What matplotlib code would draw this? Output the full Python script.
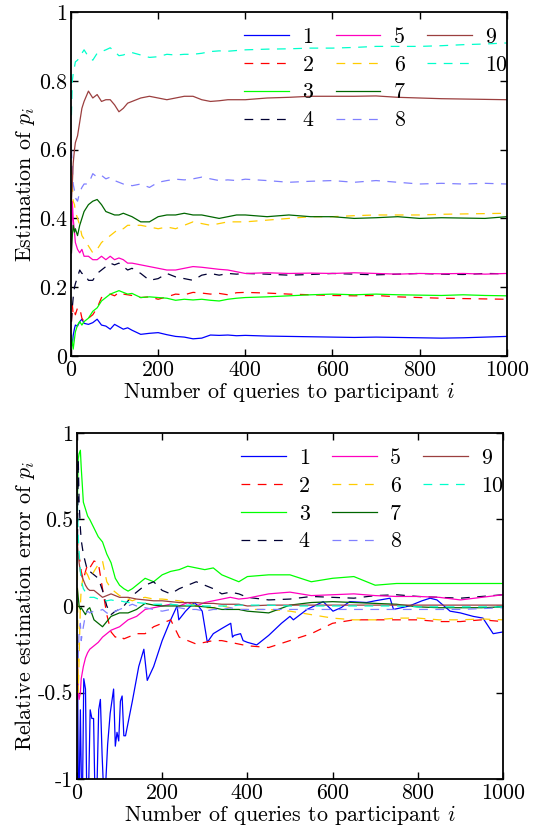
import matplotlib
matplotlib.use("Agg")
import matplotlib.pyplot as plt
from matplotlib.lines import Line2D

plt.rcParams['font.family'] = 'serif'
plt.rcParams['font.serif'] = ['cmr10', 'DejaVu Serif']
plt.rcParams['mathtext.fontset'] = 'cm'
plt.rcParams['axes.formatter.use_mathtext'] = True
plt.rcParams['axes.unicode_minus'] = False

# ---------------- data ----------------
labels = ['1', '2', '3', '4', '5', '6', '7', '8', '9', '10']
colors = ['#0000ff', '#ff0000', '#00ff00', '#000033', '#ff00bf',
          '#ffcc00', '#006600', '#8080ff', '#9b3f3f', '#00ffcc']

x_top = [1, 3, 5, 8, 10, 15, 20, 25, 30, 40, 50, 60, 70, 80, 90, 100, 110, 120, 130, 140,
         160, 180, 200, 220, 240, 260, 280, 300, 320, 340, 360, 380, 400, 450, 500, 550,
         600, 650, 700, 750, 800, 850, 900, 950, 1000]

top1 = [0.05, 0.03, 0.06, 0.08, 0.09, 0.087, 0.1, 0.107, 0.095, 0.092, 0.097, 0.107, 0.09, 0.087, 0.078,
        0.092, 0.085, 0.078, 0.082, 0.075, 0.063, 0.066, 0.068, 0.062, 0.057, 0.055, 0.05, 0.052, 0.061,
        0.06, 0.061, 0.059, 0.06, 0.058, 0.057, 0.056, 0.055, 0.054, 0.055, 0.054, 0.053, 0.052, 0.053,
        0.055, 0.057]
top2 = [0.1, 0.15, 0.12, 0.13, 0.12, 0.14, 0.14, 0.11, 0.1, 0.11, 0.12, 0.14, 0.17, 0.175, 0.18, 0.175,
        0.185, 0.18, 0.178, 0.176, 0.17, 0.172, 0.165, 0.172, 0.18, 0.178, 0.185, 0.183, 0.18, 0.182,
        0.178, 0.184, 0.185, 0.183, 0.18, 0.178, 0.176, 0.175, 0.176, 0.172, 0.17, 0.168, 0.167, 0.166,
        0.165]
top3 = [0.06, 0.04, 0.02, 0.05, 0.07, 0.09, 0.1, 0.09, 0.1, 0.11, 0.13, 0.14, 0.16, 0.17, 0.18, 0.185,
        0.19, 0.185, 0.18, 0.182, 0.17, 0.172, 0.17, 0.168, 0.162, 0.165, 0.163, 0.165, 0.162, 0.16,
        0.165, 0.168, 0.17, 0.172, 0.175, 0.178, 0.18, 0.178, 0.18, 0.178, 0.177, 0.176, 0.178, 0.176,
        0.175]
top4 = [0.1, 0.14, 0.17, 0.2, 0.21, 0.23, 0.25, 0.24, 0.24, 0.22, 0.22, 0.24, 0.25, 0.26, 0.27, 0.265,
        0.27, 0.26, 0.25, 0.255, 0.24, 0.22, 0.225, 0.24, 0.23, 0.225, 0.22, 0.235, 0.24, 0.235, 0.24,
        0.238, 0.24, 0.238, 0.235, 0.237, 0.24, 0.238, 0.236, 0.238, 0.24, 0.238, 0.237, 0.24, 0.239]
top5 = [0.3, 0.45, 0.4, 0.36, 0.33, 0.31, 0.3, 0.31, 0.29, 0.29, 0.28, 0.28, 0.29, 0.28, 0.29, 0.28,
        0.285, 0.28, 0.27, 0.27, 0.265, 0.26, 0.255, 0.25, 0.25, 0.255, 0.26, 0.258, 0.255, 0.252, 0.25,
        0.245, 0.24, 0.242, 0.24, 0.241, 0.24, 0.242, 0.24, 0.238, 0.24, 0.239, 0.24, 0.238, 0.24]
top6 = [0.55, 0.5, 0.45, 0.44, 0.42, 0.4, 0.38, 0.35, 0.34, 0.32, 0.3, 0.31, 0.33, 0.34, 0.35, 0.36,
        0.37, 0.37, 0.38, 0.38, 0.38, 0.375, 0.37, 0.375, 0.37, 0.38, 0.39, 0.385, 0.38, 0.385, 0.39,
        0.39, 0.39, 0.395, 0.4, 0.405, 0.405, 0.408, 0.41, 0.41, 0.41, 0.412, 0.413, 0.414, 0.415]
top7 = [0.3, 0.35, 0.38, 0.36, 0.37, 0.35, 0.38, 0.4, 0.42, 0.44, 0.45, 0.455, 0.44, 0.42, 0.415, 0.41,
        0.41, 0.415, 0.41, 0.405, 0.39, 0.39, 0.405, 0.41, 0.41, 0.415, 0.41, 0.41, 0.405, 0.4, 0.405,
        0.41, 0.41, 0.405, 0.41, 0.405, 0.405, 0.4, 0.402, 0.405, 0.4, 0.402, 0.401, 0.4, 0.405]
top8 = [0.6, 0.55, 0.5, 0.48, 0.46, 0.45, 0.476, 0.49, 0.5, 0.5, 0.53, 0.52, 0.525, 0.515, 0.52, 0.51,
        0.505, 0.5, 0.5, 0.495, 0.5, 0.49, 0.505, 0.51, 0.514, 0.512, 0.515, 0.52, 0.515, 0.51, 0.512,
        0.51, 0.514, 0.51, 0.505, 0.508, 0.51, 0.505, 0.51, 0.505, 0.5, 0.502, 0.5, 0.502, 0.5]
top9 = [0.45, 0.5, 0.56, 0.6, 0.62, 0.64, 0.68, 0.72, 0.74, 0.77, 0.75, 0.76, 0.74, 0.745, 0.745, 0.73,
        0.71, 0.72, 0.735, 0.74, 0.75, 0.755, 0.75, 0.745, 0.75, 0.755, 0.755, 0.745, 0.74, 0.742, 0.745,
        0.745, 0.745, 0.75, 0.752, 0.755, 0.755, 0.755, 0.756, 0.752, 0.75, 0.748, 0.747, 0.746, 0.745]
top10 = [0.7, 0.8, 0.82, 0.84, 0.855, 0.86, 0.87, 0.88, 0.89, 0.87, 0.86, 0.88, 0.885, 0.89, 0.896,
         0.885, 0.873, 0.875, 0.88, 0.882, 0.875, 0.868, 0.87, 0.877, 0.875, 0.877, 0.877, 0.88, 0.885,
         0.887, 0.886, 0.888, 0.89, 0.892, 0.893, 0.895, 0.895, 0.897, 0.9, 0.9, 0.9, 0.902, 0.905,
         0.907, 0.91]

x_bot = x_top
x_bot1 = [1, 4, 8, 12, 16, 20, 24, 27, 31, 35, 39, 43, 47, 51, 55, 59, 63, 67, 72, 78,
          86, 90, 94, 98, 102, 106, 110, 114, 130, 145, 157, 165, 180, 200, 220, 235, 239, 255, 275, 285,
          294, 306, 320, 340, 361, 365, 369, 384, 390, 400, 422, 450, 480, 500, 508, 540, 578, 601, 620, 640,
          680, 700, 735, 743, 780, 810, 829, 845, 876, 900, 930, 953, 977, 1000]
bot1 = [-0.2, -1.3, -0.6, -1.3, -0.42, -0.48, -1.3, -1.1, -0.6, -0.65,
        -0.65, -1.2, -1.05, -0.6, -0.54, -0.86, -1.1, -1.05, -0.8, -0.62,
        -0.48, -0.81, -0.73, -0.78, -0.55, -0.52, -0.75, -0.75, -0.55, -0.35,
        -0.25, -0.43, -0.35, -0.2, -0.08, 0.0, -0.08, -0.03, 0.02, 0.0,
        -0.03, -0.21, -0.16, -0.13, -0.1, -0.18, -0.17, -0.16, -0.2, -0.21,
        -0.225, -0.17, -0.1, -0.06, -0.08, -0.02, 0.025, -0.03, -0.01, 0.025,
        0.02, 0.03, 0.045, -0.02, 0.0, 0.03, 0.045, 0.035, -0.03, -0.04,
        -0.06, -0.07, -0.16, -0.15]
bot2 = [0.4, 0.3, 0.28, 0.25, 0.2, 0.15, 0.2, 0.24, 0.22, 0.26, 0.25, 0.1, -0.05, -0.15, -0.18, -0.17,
        -0.19, -0.18, -0.17, -0.16, -0.16, -0.12, -0.1, -0.08, -0.18, -0.2, -0.22, -0.21, -0.2, -0.2,
        -0.21, -0.22, -0.23, -0.24, -0.2, -0.16, -0.1, -0.08, -0.08, -0.08, -0.08, -0.09, -0.09, -0.08,
        -0.09]
bot3 = [0.6, 0.85, 0.88, 0.9, 0.8, 0.6, 0.56, 0.52, 0.5, 0.45, 0.4, 0.37, 0.3, 0.25, 0.16, 0.12, 0.1,
        0.086, 0.1, 0.12, 0.16, 0.14, 0.18, 0.2, 0.21, 0.23, 0.22, 0.21, 0.22, 0.18, 0.16, 0.14, 0.17,
        0.18, 0.18, 0.14, 0.16, 0.17, 0.12, 0.13, 0.13, 0.13, 0.13, 0.13, 0.13]
bot4 = [0.3, 0.85, 0.6, 0.45, 0.38, 0.3, 0.25, 0.2, 0.2, 0.18, 0.16, 0.09, 0.0, -0.05, -0.03, -0.02,
        0.0, 0.03, 0.06, 0.08, 0.12, 0.14, 0.09, 0.07, 0.1, 0.12, 0.14, 0.12, 0.1, 0.07, 0.08, 0.07,
        0.05, 0.035, 0.04, 0.055, 0.05, 0.045, 0.06, 0.065, 0.055, 0.05, 0.045, 0.055, 0.065]
bot5 = [-0.3, -0.5, -0.54, -0.5, -0.42, -0.35, -0.3, -0.27, -0.25, -0.23, -0.21, -0.18, -0.16, -0.14,
        -0.13, -0.12, -0.1, -0.08, -0.07, -0.06, -0.02, -0.01, 0.0, 0.01, 0.0, 0.02, 0.0, 0.02, 0.03,
        0.04, 0.05, 0.04, 0.045, 0.07, 0.08, 0.06, 0.065, 0.07, 0.06, 0.055, 0.055, 0.05, 0.035, 0.05,
        0.065]
bot6 = [0.2, -0.5, -0.3, 0.0, 0.1, 0.18, 0.2, 0.18, 0.15, 0.2, 0.24, 0.26, 0.14, 0.1, 0.08, 0.06, 0.05,
        0.04, 0.03, 0.04, 0.05, 0.04, 0.04, 0.035, 0.03, 0.02, 0.0, -0.01, -0.01, 0.0, -0.01, -0.02,
        -0.02, -0.02, -0.03, -0.05, -0.07, -0.08, -0.08, -0.07, -0.07, -0.08, -0.08, -0.075, -0.08]
bot7 = [0.1, 0.05, 0.0, -0.02, -0.01, -0.03, -0.05, -0.02, -0.01, -0.08, -0.1, -0.12, -0.09, -0.06,
        -0.05, -0.04, -0.04, -0.04, -0.03, -0.02, 0.015, 0.005, 0.0, 0.0, 0.0, 0.0, 0.0, -0.005, -0.01,
        -0.02, -0.02, -0.02, -0.03, -0.04, 0.005, 0.02, 0.025, 0.02, 0.015, 0.01, -0.005, -0.01, -0.01,
        -0.01, -0.005]
bot8 = [-0.2, -0.3, -0.15, -0.1, -0.2, -0.12, -0.05, -0.03, -0.04, -0.03, -0.03, -0.02, -0.04, -0.05,
        -0.03, -0.02, -0.01, 0.0, 0.01, 0.0, -0.01, -0.02, -0.03, -0.02, -0.01, -0.02, -0.02, -0.03,
        -0.02, -0.02, -0.01, -0.02, -0.02, -0.02, -0.02, -0.02, -0.02, -0.02, -0.02, -0.02, -0.02, -0.02,
        -0.02, -0.015, -0.01]
bot9 = [0.35, 0.3, 0.25, 0.2, 0.18, 0.15, 0.12, 0.1, 0.09, 0.09, 0.07, 0.05, 0.06, 0.07, 0.06, 0.05,
        0.05, 0.05, 0.045, 0.04, 0.035, 0.03, 0.03, 0.025, 0.02, 0.02, 0.02, 0.015, 0.015, 0.01, 0.01,
        0.01, 0.0, 0.005, 0.005, 0.005, 0.005, 0.005, 0.005, 0.005, 0.005, 0.005, 0.005, 0.005, 0.005]
bot10 = [0.6, 0.4, 0.31, 0.2, 0.15, 0.1, 0.08, 0.06, 0.05, 0.05, 0.04, 0.03, 0.03, 0.035, 0.03, 0.03,
         0.025, 0.02, 0.02, 0.02, 0.015, 0.01, 0.01, 0.01, 0.005, 0.005, 0.005, 0.0, 0.0, 0.0, 0.0,
         0.005, 0.005, 0.005, 0.0, 0.0, 0.0, 0.0, 0.0, 0.0, -0.005, -0.005, -0.005, -0.005, -0.005]

xticks = [0, 200, 400, 600, 800, 1000]
top_yticks = [0, 0.2, 0.4, 0.6, 0.8, 1]
top_yticklabels = ['0', '0.2', '0.4', '0.6', '0.8', '1']
bot_yticks = [-1, -0.5, 0, 0.5, 1]
bot_yticklabels = ['-1', '-0.5', '0', '0.5', '1']

# ---------------- plotting ----------------
FS = 15.8
fig = plt.figure(figsize=(5.42, 8.27), dpi=100)
ax1 = fig.add_axes([0.131, 0.5695, 0.804, 0.416])
ax2 = fig.add_axes([0.142, 0.058, 0.786, 0.4185])

top_series = [top1, top2, top3, top4, top5, top6, top7, top8, top9, top10]
bot_series = [bot1, bot2, bot3, bot4, bot5, bot6, bot7, bot8, bot9, bot10]


def draw(ax, xs_list, ys_list):
    handles = []
    for i, (xs, ys) in enumerate(zip(xs_list, ys_list)):
        ln, = ax.plot(xs, ys, color=colors[i], lw=0.9, label=labels[i])
        if i % 2 == 1:
            ln.set_dashes((7, 6))
        handles.append(ln)
    dummy = Line2D([], [], color='none', label='')
    handles.append(dummy)
    ax.legend(handles=handles, labels=labels + [''], ncol=3, loc='upper right',
              frameon=False, fontsize=FS, handlelength=2.05, handletextpad=0.6,
              columnspacing=1.0, labelspacing=0.38, borderaxespad=0.0,
              borderpad=0.1, bbox_to_anchor=(1.005, 0.962))


draw(ax1, [x_top] * 10, top_series)
draw(ax2, [x_bot1] + [x_bot] * 9, bot_series)

for ax in (ax1, ax2):
    ax.set_xlim(0, 1000)
    ax.set_xticks(xticks)
    ax.set_xticklabels([str(t) for t in xticks])
    ax.tick_params(direction='in', top=True, right=True, labelsize=FS, length=5, width=1, pad=3)
    for sp in ax.spines.values():
        sp.set_linewidth(1.3)
    ax.set_xlabel('Number of queries to participant $i$', fontsize=FS, labelpad=0)

ax1.set_ylim(0, 1)
ax1.set_yticks(top_yticks)
ax1.set_yticklabels(top_yticklabels)
ax1.set_ylabel('Estimation of $p_i$', fontsize=FS, labelpad=1)

ax2.set_ylim(-1, 1)
ax2.set_yticks(bot_yticks)
ax2.set_yticklabels(bot_yticklabels)
ax2.set_ylabel('Relative estimation error of $p_i$', fontsize=FS, labelpad=0)

fig.savefig('out.png', dpi=100)
